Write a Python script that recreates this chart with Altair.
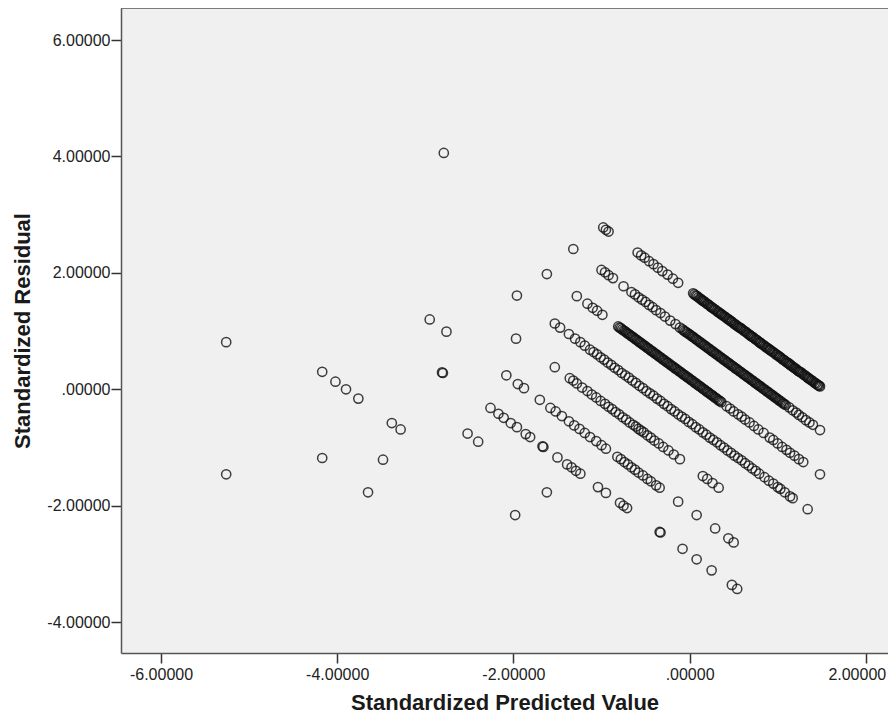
import altair as alt
import pandas as pd

# ---- data (standardized predicted value, standardized residual) ----
# band 0 (top diagonal)
L0_x = [-0.98, -0.95, -0.92, -0.59, -0.55, -0.51, -0.46, -0.41, -0.36, -0.31, -0.25, -0.19, -0.13,
        0.04, 0.07, 0.10, 0.13, 0.15, 0.18, 0.21, 0.24, 0.26, 0.29, 0.32, 0.35, 0.37, 0.40, 0.43, 0.46,
        0.48, 0.51, 0.54, 0.57, 0.59, 0.62, 0.65, 0.68, 0.70, 0.73, 0.76, 0.79, 0.81, 0.84, 0.87, 0.90,
        0.92, 0.95, 0.98, 1.01, 1.03, 1.06, 1.09, 1.12, 1.14, 1.17, 1.20, 1.23, 1.25, 1.28, 1.31, 1.34,
        1.36, 1.39, 1.42, 1.45, 1.47, 1.48]
L0_y = [2.78, 2.74, 2.71, 2.35, 2.30, 2.26, 2.20, 2.15, 2.09, 2.03, 1.97, 1.90, 1.83,
        1.65, 1.61, 1.58, 1.55, 1.52, 1.49, 1.46, 1.42, 1.40, 1.37, 1.33, 1.30, 1.28, 1.25, 1.21, 1.18,
        1.16, 1.12, 1.09, 1.06, 1.04, 1.00, 0.97, 0.94, 0.91, 0.88, 0.85, 0.81, 0.79, 0.76, 0.72, 0.69,
        0.67, 0.64, 0.60, 0.57, 0.55, 0.51, 0.48, 0.45, 0.42, 0.39, 0.36, 0.32, 0.30, 0.27, 0.24, 0.20,
        0.18, 0.15, 0.11, 0.08, 0.06, 0.05]
# more cases inside the solid black part of band 0
L0b_x = [0.055, 0.085, 0.115, 0.14, 0.165, 0.195, 0.225, 0.25, 0.275, 0.305,
         0.335, 0.36, 0.385, 0.415, 0.445, 0.47, 0.495, 0.525, 0.555, 0.58,
         0.605, 0.635, 0.665, 0.69, 0.715, 0.745, 0.775, 0.80, 0.825, 0.855,
         0.885, 0.91, 0.935, 0.965, 0.995, 1.02, 1.045, 1.075, 1.105, 1.13,
         1.155, 1.185, 1.215, 1.24, 1.265, 1.295, 1.325, 1.35, 1.375, 1.405,
         1.435, 1.46]
L0b_y = [1.63, 1.60, 1.56, 1.53, 1.51, 1.47, 1.44, 1.41, 1.38, 1.35,
         1.32, 1.29, 1.26, 1.23, 1.20, 1.17, 1.14, 1.11, 1.07, 1.05,
         1.02, 0.99, 0.95, 0.92, 0.90, 0.86, 0.83, 0.80, 0.77, 0.74,
         0.71, 0.68, 0.65, 0.62, 0.59, 0.56, 0.53, 0.50, 0.46, 0.44,
         0.41, 0.37, 0.34, 0.31, 0.29, 0.25, 0.22, 0.19, 0.16, 0.13,
         0.10, 0.07]

# band 1
L1_x = [-2.79, -1.32, -1.00, -0.96, -0.92, -0.87, -0.75, -0.66, -0.62, -0.58, -0.54, -0.50, -0.46,
        -0.42, -0.38, -0.33, -0.28, -0.22, -0.16, -0.11,
        -0.08, -0.05, -0.02, 0.01, 0.04, 0.07, 0.10, 0.13, 0.16, 0.19, 0.22, 0.25, 0.28, 0.31, 0.34,
        0.37, 0.40, 0.43, 0.46, 0.49, 0.52, 0.55, 0.58, 0.61, 0.64, 0.67, 0.70, 0.73, 0.76, 0.79, 0.82,
        0.85, 0.88, 0.91, 0.94, 0.97, 1.00, 1.03, 1.06, 1.09,
        1.13, 1.17, 1.21, 1.24, 1.28, 1.32, 1.36, 1.40, 1.48]
L1_y = [4.06, 2.41, 2.05, 2.01, 1.96, 1.91, 1.77, 1.67, 1.63, 1.58, 1.54, 1.50, 1.45,
        1.41, 1.36, 1.31, 1.25, 1.18, 1.12, 1.06,
        1.03, 0.99, 0.96, 0.93, 0.90, 0.86, 0.83, 0.80, 0.76, 0.73, 0.70, 0.66, 0.63, 0.60, 0.56,
        0.53, 0.50, 0.46, 0.43, 0.40, 0.36, 0.33, 0.30, 0.26, 0.23, 0.20, 0.16, 0.13, 0.10, 0.06, 0.03,
        0.00, -0.04, -0.07, -0.10, -0.14, -0.17, -0.20, -0.24, -0.27,
        -0.31, -0.36, -0.40, -0.44, -0.48, -0.53, -0.57, -0.61, -0.70]
L1b_x = [-0.065, -0.035, -0.005, 0.025, 0.055, 0.085, 0.115, 0.145, 0.175, 0.205,
         0.235, 0.265, 0.295, 0.325, 0.355, 0.385, 0.415, 0.445, 0.475, 0.505,
         0.535, 0.565, 0.595, 0.625, 0.655, 0.685, 0.715, 0.745, 0.775, 0.805,
         0.835, 0.865, 0.895, 0.925, 0.955, 0.985, 1.015, 1.045, 1.075]
L1b_y = [1.01, 0.98, 0.95, 0.91, 0.88, 0.85, 0.81, 0.78, 0.75, 0.71,
         0.68, 0.65, 0.61, 0.58, 0.55, 0.51, 0.48, 0.45, 0.41, 0.38,
         0.35, 0.31, 0.28, 0.25, 0.21, 0.18, 0.15, 0.11, 0.08, 0.05,
         0.01, -0.02, -0.05, -0.09, -0.12, -0.15, -0.19, -0.22, -0.25]

# band 2
L2_x = [-1.62, -1.28, -1.16, -1.10, -1.05, -0.99,
        -0.81, -0.78, -0.75, -0.72, -0.69, -0.66, -0.63, -0.60, -0.57, -0.54,
        -0.51, -0.48, -0.45, -0.42, -0.39, -0.36, -0.33, -0.30, -0.27, -0.24,
        -0.21, -0.18, -0.15, -0.12, -0.09, -0.06, -0.03, 0.00, 0.03, 0.06,
        0.09, 0.12, 0.15, 0.18, 0.21, 0.24, 0.27, 0.30, 0.33, 0.36,
        0.42, 0.46, 0.50, 0.55, 0.59, 0.63, 0.68, 0.73, 0.78, 0.84, 0.91, 0.95, 1.00, 1.05, 1.10,
        1.14, 1.19, 1.24, 1.29, 1.48]
L2_y = [1.98, 1.60, 1.47, 1.40, 1.35, 1.28,
        1.08, 1.05, 1.01, 0.98, 0.95, 0.91, 0.88, 0.85, 0.81, 0.78,
        0.75, 0.71, 0.68, 0.65, 0.61, 0.58, 0.55, 0.51, 0.48, 0.45,
        0.41, 0.38, 0.35, 0.31, 0.28, 0.25, 0.21, 0.18, 0.15, 0.11,
        0.08, 0.05, 0.01, -0.02, -0.05, -0.09, -0.12, -0.15, -0.19, -0.22,
        -0.29, -0.33, -0.38, -0.43, -0.47, -0.52, -0.57, -0.63, -0.69, -0.75, -0.83, -0.87, -0.93,
        -0.99, -1.04, -1.09, -1.14, -1.20, -1.25, -1.46]
L2b_x = [-0.795, -0.765, -0.735, -0.705, -0.675, -0.645, -0.615, -0.585, -0.555, -0.525,
         -0.495, -0.465, -0.435, -0.405, -0.375, -0.345, -0.315, -0.285, -0.255, -0.225,
         -0.195, -0.165, -0.135, -0.105, -0.075, -0.045, -0.015, 0.015, 0.045, 0.075,
         0.105, 0.135, 0.165, 0.195, 0.225, 0.255, 0.285, 0.315, 0.345]
L2b_y = [1.06, 1.03, 1.00, 0.96, 0.93, 0.90, 0.86, 0.83, 0.80, 0.76,
         0.73, 0.70, 0.66, 0.63, 0.60, 0.56, 0.53, 0.50, 0.46, 0.43,
         0.40, 0.36, 0.33, 0.30, 0.26, 0.23, 0.20, 0.16, 0.13, 0.10,
         0.06, 0.03, 0.00, -0.04, -0.07, -0.10, -0.14, -0.17, -0.20]

# band 3
L3_x = [-1.96, -1.53, -1.47, -1.37, -1.30, -1.24, -1.19,
        -1.13, -1.09, -1.05, -1.01, -0.97, -0.93, -0.89, -0.85, -0.81, -0.77,
        -0.73, -0.69, -0.65, -0.61, -0.57, -0.53, -0.49, -0.45, -0.41, -0.37,
        -0.33, -0.29, -0.25, -0.21, -0.17, -0.13, -0.09, -0.05, -0.01, 0.03,
        0.07, 0.11, 0.15, 0.19, 0.23, 0.27, 0.31, 0.35, 0.39, 0.43,
        0.47, 0.51, 0.55, 0.59, 0.63, 0.67, 0.71, 0.75, 0.79,
        0.85, 0.90, 0.95, 1.00, 1.03, 1.08, 1.14, 1.17, 1.34]
L3_y = [1.61, 1.13, 1.06, 0.95, 0.87, 0.81, 0.75,
        0.68, 0.64, 0.60, 0.55, 0.51, 0.46, 0.42, 0.37, 0.33, 0.28,
        0.24, 0.20, 0.15, 0.11, 0.06, 0.02, -0.03, -0.07, -0.11, -0.16,
        -0.20, -0.25, -0.29, -0.34, -0.38, -0.43, -0.47, -0.51, -0.56, -0.60,
        -0.65, -0.69, -0.74, -0.78, -0.83, -0.87, -0.91, -0.96, -1.00, -1.05,
        -1.09, -1.14, -1.18, -1.22, -1.27, -1.31, -1.36, -1.40, -1.45,
        -1.51, -1.57, -1.62, -1.68, -1.71, -1.77, -1.84, -1.87, -2.06]

# band 4
L4_x = [-1.97, -1.53, -1.36, -1.32, -1.28, -1.22, -1.16, -1.11, -1.06, -1.01,
        -0.96, -0.92, -0.88, -0.84, -0.80, -0.76, -0.72, -0.68, -0.64, -0.61,
        -0.58, -0.55, -0.52, -0.48, -0.44, -0.40, -0.35, -0.30, -0.24, -0.18,
        -0.11, 0.15, 0.20, 0.26, 0.33]
L4_y = [0.87, 0.38, 0.19, 0.15, 0.10, 0.03, -0.03, -0.09, -0.14, -0.20,
        -0.25, -0.30, -0.34, -0.39, -0.43, -0.48, -0.52, -0.57, -0.61, -0.64,
        -0.68, -0.71, -0.74, -0.79, -0.83, -0.88, -0.93, -0.99, -1.05, -1.12,
        -1.20, -1.49, -1.54, -1.61, -1.69]

# band 5
L5_x = [-2.95, -2.76, -2.08, -1.95, -1.88, -1.70, -1.58, -1.52, -1.45, -1.37,
        -1.31, -1.25, -1.19, -1.13, -1.06, -1.00, -0.95, -0.82, -0.78, -0.74,
        -0.70, -0.66, -0.62, -0.58, -0.53, -0.48, -0.44, -0.38, -0.34, -0.13,
        0.08, 0.29, 0.44, 0.50]
L5_y = [1.20, 0.99, 0.24, 0.09, 0.02, -0.18, -0.32, -0.38, -0.46, -0.55,
        -0.62, -0.68, -0.75, -0.82, -0.89, -0.96, -1.02, -1.16, -1.20, -1.25,
        -1.29, -1.34, -1.38, -1.43, -1.48, -1.54, -1.58, -1.65, -1.69, -1.93,
        -2.16, -2.39, -2.56, -2.63]

# band 6
L6_x = [-2.81, -2.80, -2.26, -2.17, -2.11, -2.03, -1.96, -1.86, -1.81, -1.67,
        -1.66, -1.50, -1.39, -1.34, -1.29, -1.24, -1.04, -0.95, -0.79, -0.75,
        -0.71, -0.34, -0.33, -0.08, 0.08, 0.25, 0.48, 0.54]
L6_y = [0.29, 0.28, -0.32, -0.42, -0.49, -0.58, -0.65, -0.77, -0.82, -0.98,
        -0.99, -1.17, -1.29, -1.34, -1.40, -1.45, -1.68, -1.78, -1.95, -2.00,
        -2.04, -2.45, -2.46, -2.74, -2.92, -3.11, -3.36, -3.43]

# sparse lower bands / outliers on the left
LX_x = [-2.52, -2.40, -1.62, -4.17, -4.02, -3.90, -3.76, -3.38, -3.28, -1.98,
        -5.26, -3.48, -4.17, -3.65, -5.26]
LX_y = [-0.76, -0.90, -1.77, 0.30, 0.13, 0.00, -0.16, -0.58, -0.69, -2.16,
        0.81, -1.21, -1.18, -1.77, -1.46]

X_TICKS = [-6, -4, -2, 0, 2]
Y_TICKS = [-4, -2, 0, 2, 4, 6]

frames = []
for xs, ys in [(L0_x, L0_y), (L0b_x, L0b_y), (L1_x, L1_y), (L1b_x, L1b_y),
               (L2_x, L2_y), (L2b_x, L2b_y), (L3_x, L3_y), (L4_x, L4_y),
               (L5_x, L5_y), (L6_x, L6_y), (LX_x, LX_y)]:
    n = min(len(xs), len(ys))
    frames.append(pd.DataFrame({"pred": xs[:n], "resid": ys[:n]}))
df = pd.concat(frames, ignore_index=True)

W, H = 767, 645
FONT = "Liberation Sans, Arial, sans-serif"
BORDER = "#555555"
label_expr = ("(datum.value < 0 ? '-' : '') + (datum.value == 0 ? '' : "
              "format(abs(datum.value), 'd')) + '.00000'")

points = alt.Chart(df).mark_point(
    shape="circle", filled=False, size=85, strokeWidth=1.5, color="#111111", opacity=0.8
).encode(
    x=alt.X("pred:Q",
            scale=alt.Scale(domain=[-6.454, 2.252], nice=False, zero=False),
            axis=alt.Axis(values=X_TICKS, labelExpr=label_expr, title="Standardized Predicted Value",
                          grid=False, domain=True, domainColor=BORDER, domainWidth=1.5,
                          tickSize=10, tickColor="#333333", tickWidth=1.5,
                          labelFontSize=16, labelPadding=3, labelColor="#222222", labelFont=FONT,
                          labelFlush=False, labelOverlap=False, labelBound=False,
                          labelOffset={"condition": {"test": "datum.value == 2", "value": -9},
                                       "value": 0},
                          titleFont=FONT, titleFontSize=22, titleFontWeight="bold",
                          titleColor="#1a1a1a", titleY=49, titleBaseline="middle")),
    y=alt.Y("resid:Q",
            scale=alt.Scale(domain=[-4.53, 6.55], nice=False, zero=False),
            axis=alt.Axis(values=Y_TICKS, labelExpr=label_expr, title="Standardized Residual",
                          grid=False, domain=True, domainColor=BORDER, domainWidth=1.5,
                          tickSize=10, tickColor="#333333", tickWidth=1.5,
                          labelFontSize=16, labelPadding=1, labelColor="#222222", labelFont=FONT,
                          labelFlush=False, labelOverlap=False, labelBound=False,
                          titleFont=FONT, titleFontSize=22, titleFontWeight="bold",
                          titleColor="#1a1a1a", titleX=-99, titleBaseline="middle")),
)

# top frame line of the plot area (the right side runs off the page in the reference)
top_line = alt.Chart(pd.DataFrame({"edge": ["top"]})).mark_rule(
    color=BORDER, strokeWidth=1.5
).encode(x=alt.value(0), x2=alt.value(W), y=alt.value(0))

chart = alt.layer(points, top_line).properties(
    width=W,
    height=H,
    autosize=alt.AutoSizeParams(type="none"),
    padding={"left": 113, "top": 0, "right": 0, "bottom": 61},
    background="white",
).configure_view(
    fill="#f0f0f0", stroke=None
)

chart.save("out.html", embed_options={"renderer": "svg", "actions": False})
